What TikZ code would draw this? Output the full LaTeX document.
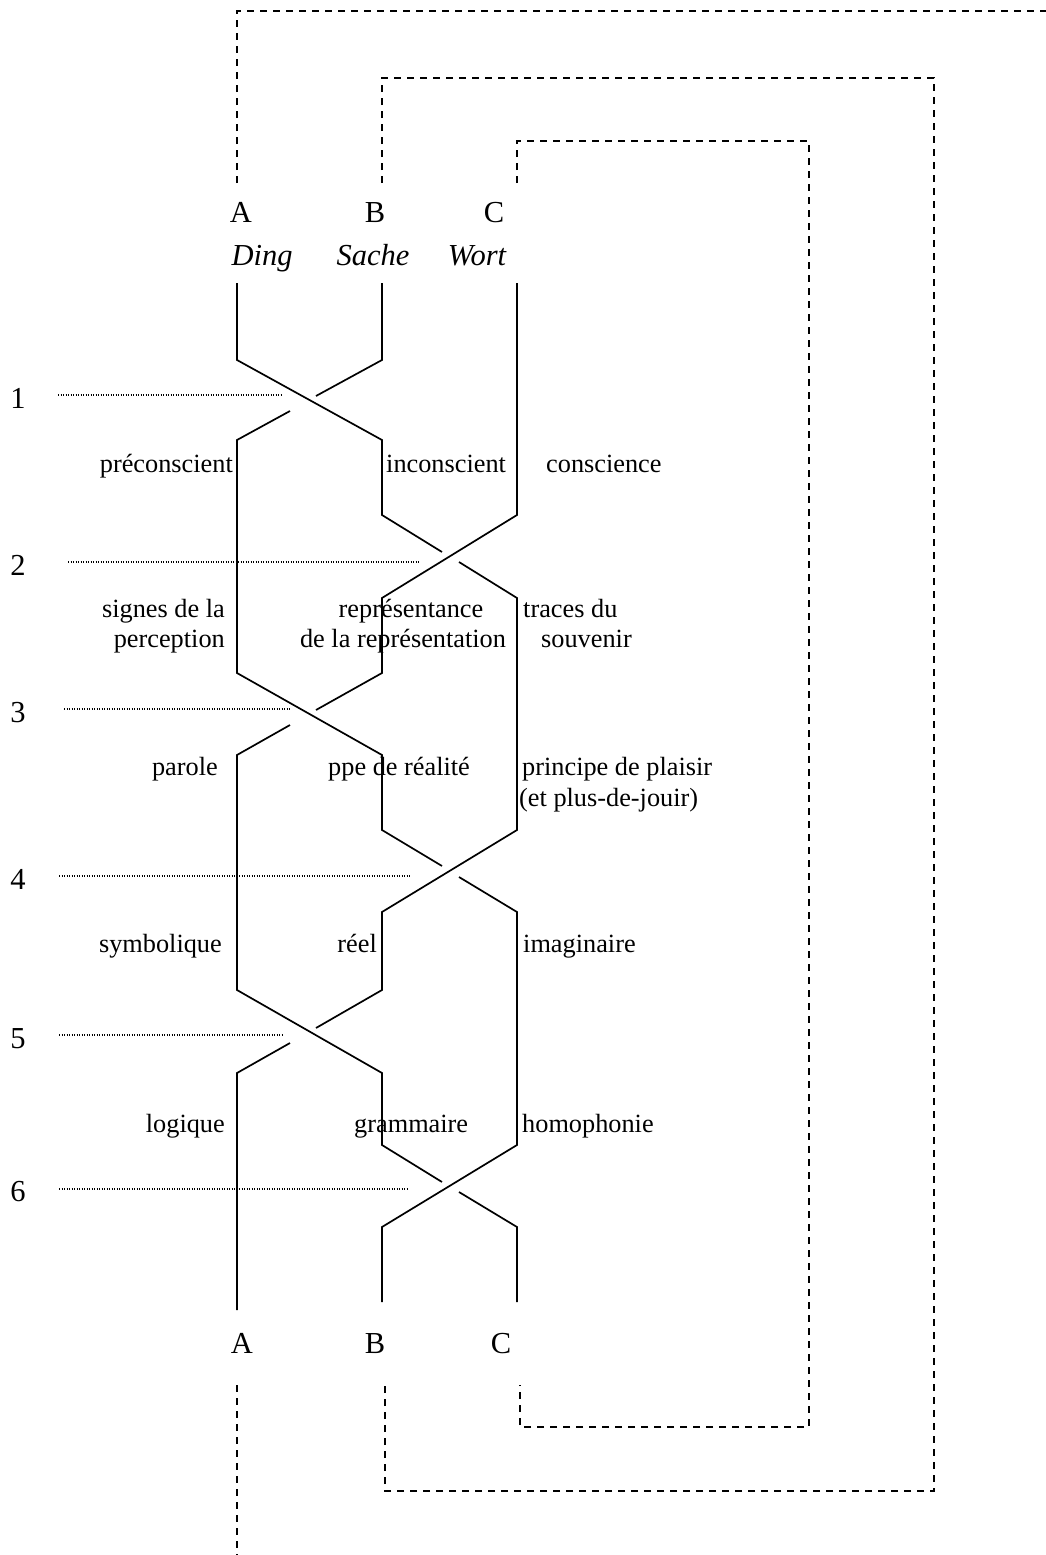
\documentclass[tikz,border=0pt]{standalone}
\usepackage{fontspec}
\setmainfont{Liberation Serif}
\begin{document}
\begin{tikzpicture}[x=1pt,y=-1pt,
  strand/.style={line width=1.7pt, line join=miter, line cap=butt},
  loopline/.style={line width=1.5pt, dash pattern=on 7pt off 6pt},
  guide/.style={line width=1.1pt, dash pattern=on 1pt off 1.5pt},
  lbl/.style={inner sep=0pt, font=\fontsize{26.3}{30}\selectfont},
  capl/.style={inner sep=0pt, font=\fontsize{30.5}{34}\selectfont},
  word/.style={inner sep=0pt, font=\fontsize{30.5}{34}\selectfont\itshape},
]
\fill[white] (0,0) rectangle (1045,1555);
\useasboundingbox (0,0) rectangle (1045,1555);

% ---- top labels
\node[capl, anchor=base] (topA) at (241,222) {A};
\node[capl, anchor=base] (topB) at (375,222) {B};
\node[capl, anchor=base] (topC) at (494,222) {C};
\node[word, anchor=base] (ding) at (262,265) {Ding};
\node[word, anchor=base] (sache) at (373,265) {Sache};
\node[word, anchor=base] (wort) at (477,265) {Wort};

% ---- bottom labels
\node[capl, anchor=base] (botA) at (242,1353) {A};
\node[capl, anchor=base] (botB) at (375,1353) {B};
\node[capl, anchor=base] (botC) at (501,1353) {C};

% ---- dashed loops
\coordinate (la0) at (237,183);
\coordinate (la1) at (237,11);
\coordinate (la2) at (1046,11);
\draw[loopline] (la0) -- (la1) -- (la2);
\coordinate (lb0) at (382,183);
\coordinate (lb1) at (382,78);
\coordinate (lb2) at (934,78);
\coordinate (lb3) at (934,1491);
\coordinate (lb4) at (385,1491);
\coordinate (lb5) at (385,1385);
\draw[loopline] (lb0) -- (lb1) -- (lb2) -- (lb3) -- (lb4) -- (lb5);
\coordinate (lc0) at (517,183);
\coordinate (lc1) at (517,141);
\coordinate (lc2) at (809,141);
\coordinate (lc3) at (809,1427);
\coordinate (lc4) at (520,1427);
\coordinate (lc5) at (520,1385);
\draw[loopline] (lc0) -- (lc1) -- (lc2) -- (lc3) -- (lc4) -- (lc5);
\coordinate (ld0) at (237,1385);
\coordinate (ld1) at (237,1556);
\draw[loopline] (ld0) -- (ld1);

% ---- strands (braid)
% strand starting at A
\draw[strand] (237,283) -- (237,360) -- (382,440) -- (382,515) -- (442,552);
\draw[strand] (459,562) -- (517,598) -- (517,830) -- (382,912) -- (382,990) -- (316,1028);
\draw[strand] (290,1043) -- (237,1073) -- (237,1310);
% strand starting at B
\draw[strand] (382,283) -- (382,360) -- (316,396);
\draw[strand] (290,411) -- (237,440) -- (237,673) -- (382,755) -- (382,830) -- (442,866);
\draw[strand] (459,877) -- (517,912) -- (517,1145) -- (382,1227) -- (382,1302);
% strand starting at C
\draw[strand] (517,283) -- (517,515) -- (382,598) -- (382,673) -- (316,710);
\draw[strand] (290,725) -- (237,755) -- (237,990) -- (382,1073) -- (382,1145) -- (442,1182);
\draw[strand] (459,1192) -- (517,1227) -- (517,1302);

% ---- level numbers and dotted guides
\node[capl, anchor=base] (n1) at (18,408) {1};
\node[capl, anchor=base] (n2) at (18,575) {2};
\node[capl, anchor=base] (n3) at (18,722) {3};
\node[capl, anchor=base] (n4) at (18,889) {4};
\node[capl, anchor=base] (n5) at (18,1048) {5};
\node[capl, anchor=base] (n6) at (18,1201) {6};
\coordinate (g1a) at (58,395);   \coordinate (g1b) at (283,395);
\coordinate (g2a) at (68,562);   \coordinate (g2b) at (420,562);
\coordinate (g3a) at (64,709);   \coordinate (g3b) at (291,709);
\coordinate (g4a) at (59,876);   \coordinate (g4b) at (410,876);
\coordinate (g5a) at (59,1035);  \coordinate (g5b) at (284,1035);
\coordinate (g6a) at (59,1189);  \coordinate (g6b) at (408,1189);
\draw[guide] (g1a) -- (g1b);
\draw[guide] (g2a) -- (g2b);
\draw[guide] (g3a) -- (g3b);
\draw[guide] (g4a) -- (g4b);
\draw[guide] (g5a) -- (g5b);
\draw[guide] (g6a) -- (g6b);

% ---- region labels
\node[lbl, anchor=base east] (precon) at (233,472) {préconscient};
\node[lbl, anchor=base west] (incon) at (386,472) {inconscient};
\node[lbl, anchor=base west] (consc) at (546,472) {conscience};

\node[lbl, anchor=base east] (signes) at (225,617) {signes de la};
\node[lbl, anchor=base east] (percep) at (225,647) {perception};
\node[lbl, anchor=base] (repr1) at (411,617) {représentance};
\node[lbl, anchor=base] (repr2) at (403,647) {de la représentation};
\node[lbl, anchor=base west] (traces) at (523,617) {traces du};
\node[lbl, anchor=base west] (souv) at (541,647) {souvenir};

\node[lbl, anchor=base east] (parole) at (218,775) {parole};
\node[lbl, anchor=base west] (ppe) at (328,775) {ppe de réalité};
\node[lbl, anchor=base west] (plaisir) at (522,775) {principe de plaisir};
\node[lbl, anchor=base west] (jouir) at (519,806) {(et plus-de-jouir)};

\node[lbl, anchor=base east] (symb) at (222,952) {symbolique};
\node[lbl, anchor=base east] (reel) at (377,952) {réel};
\node[lbl, anchor=base west] (imag) at (523,952) {imaginaire};

\node[lbl, anchor=base east] (logi) at (225,1132) {logique};
\node[lbl, anchor=base west] (gram) at (354,1132) {grammaire};
\node[lbl, anchor=base west] (homo) at (522,1132) {homophonie};
\end{tikzpicture}
\end{document}
